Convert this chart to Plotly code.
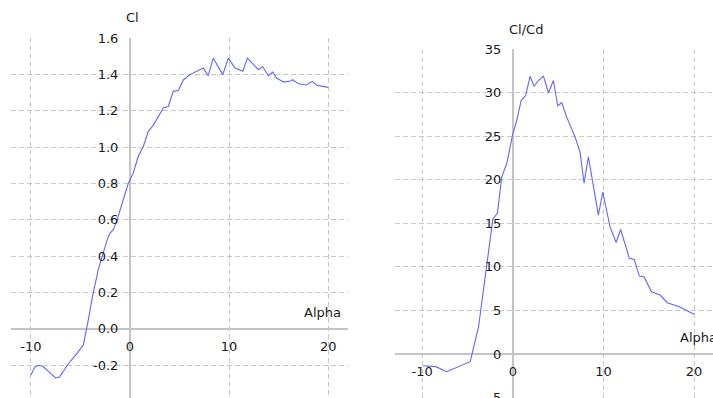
import plotly.graph_objects as go

# Lift coefficient polar: angle of attack (deg) vs Cl
cl_alpha = [-10.0, -9.6, -9.2, -8.75, -8.2, -7.5, -7.1, -6.6, -6.2, -5.5, -4.7,
            -4.2, -3.77, -3.2, -2.3, -2.0, -1.7, -1.35, -0.67, -0.17, 0.33, 0.84,
            1.35, 1.85, 2.35, 3.37, 3.87, 4.37, 4.88, 5.4, 6.06, 7.4, 7.9, 8.4,
            9.36, 9.93, 10.6, 11.38, 11.85, 12.45, 12.96, 13.37, 13.97, 14.4,
            14.8, 15.5, 16.2, 16.4, 17.0, 17.8, 18.4, 18.86, 20.0]
cl_values = [-0.255, -0.21, -0.20, -0.207, -0.235, -0.27, -0.265, -0.22, -0.19,
             -0.145, -0.088, 0.05, 0.18, 0.325, 0.49, 0.527, 0.545, 0.59, 0.71,
             0.80, 0.857, 0.95, 1.004, 1.087, 1.12, 1.215, 1.224, 1.307, 1.312,
             1.371, 1.399, 1.435, 1.393, 1.49, 1.399, 1.49, 1.435, 1.417, 1.49,
             1.454, 1.426, 1.444, 1.393, 1.413, 1.38, 1.358, 1.364, 1.371, 1.349,
             1.342, 1.362, 1.34, 1.329]

# Glide ratio polar: angle of attack (deg) vs Cl/Cd
ld_alpha = [-9.9, -8.5, -7.3, -6.2, -4.7, -3.78, -3.4, -3.03, -2.48, -2.2, -1.7,
            -1.4, -1.22, -0.66, -0.04, 0.44, 0.92, 1.43, 1.9, 2.35, 2.83, 3.38,
            3.93, 4.48, 4.96, 5.4, 5.95, 6.87, 7.42, 7.86, 8.34, 9.44, 9.93,
            10.73, 11.4, 11.9, 12.86, 13.4, 13.96, 14.48, 15.3, 16.25, 17.05,
            18.37, 20.0]
ld_values = [-1.34, -1.45, -2.03, -1.57, -0.88, 3.13, 6.2, 9.26, 13.1, 15.5, 16.15,
             19.3, 20.35, 21.9, 25.1, 26.85, 29.1, 29.7, 31.9, 30.75, 31.4, 31.9,
             30.0, 31.4, 28.5, 28.85, 27.2, 24.9, 23.2, 19.6, 22.65, 15.95, 18.6,
             14.6, 12.8, 14.3, 11.0, 10.85, 8.95, 8.87, 7.15, 6.77, 5.89, 5.43,
             4.56]

# Tick values and their labels
alpha_ticks = [-10, 0, 10, 20]
alpha_labels = ["-10", "0", "10", "20"]
cl_ticks = [-0.2, 0.0, 0.2, 0.4, 0.6, 0.8, 1.0, 1.2, 1.4, 1.6]
cl_labels = ["-0.2", "0.0", "0.2", "0.4", "0.6", "0.8", "1.0", "1.2", "1.4", "1.6"]
ld_ticks = [-5, 0, 5, 10, 15, 20, 25, 30, 35]
ld_labels = ["-5", "0", "5", "10", "15", "20", "25", "30", "35"]

W, H = 713, 398
LINE = "rgb(100,100,255)"
GRID = "#c8c8c8"
AXIS = "#c4c4c4"
TEXT = "#1a1a1a"
FONT = "DejaVu Sans"

# Plot areas (paper fractions) and ranges
x1_dom, x1_rng = [11 / W, 348 / W], [-12.0, 22.0]
y1_dom, y1_rng = [0.0, 1 - 38 / H], [-0.38, 1.6005]
x2_dom, x2_rng = [395 / W, 1.0], [-13.0, 22.09]
y2_dom, y2_rng = [0.0, 1 - 49 / H], [-5.05, 35.02]


def zero_pos(dom, rng):
    """Paper coordinate where the value 0 falls on an axis."""
    return dom[0] + (0 - rng[0]) / (rng[1] - rng[0]) * (dom[1] - dom[0])


fig = go.Figure()
fig.add_trace(go.Scatter(x=cl_alpha, y=cl_values, mode="lines",
                         line=dict(color=LINE, width=1.1),
                         xaxis="x", yaxis="y", showlegend=False))
fig.add_trace(go.Scatter(x=ld_alpha, y=ld_values, mode="lines",
                         line=dict(color=LINE, width=1.1),
                         xaxis="x2", yaxis="y2", showlegend=False))

common = dict(
    showgrid=True, gridcolor=GRID, gridwidth=1, griddash="5px,3px",
    zeroline=True, zerolinecolor=AXIS, zerolinewidth=1.5,
    showline=False, ticks="outside", tickcolor="rgba(0,0,0,0)",
    tickfont=dict(family=FONT, size=13, color=TEXT),
    ticklabeloverflow="allow", automargin=False,
    anchor="free", fixedrange=True,
)

fig.update_layout(
    width=W, height=H,
    margin=dict(l=0, r=0, t=0, b=0, autoexpand=False),
    paper_bgcolor="white", plot_bgcolor="white",
    font=dict(family=FONT, size=13, color=TEXT),
    xaxis=dict(common, domain=x1_dom, range=x1_rng, tickvals=alpha_ticks,
               ticktext=alpha_labels, ticklen=5,
               position=zero_pos(y1_dom, y1_rng)),
    yaxis=dict(common, domain=y1_dom, range=y1_rng, tickvals=cl_ticks,
               ticktext=cl_labels, ticklen=9,
               position=zero_pos(x1_dom, x1_rng)),
    xaxis2=dict(common, domain=x2_dom, range=x2_rng, tickvals=alpha_ticks,
                ticktext=alpha_labels, ticklen=5,
                position=zero_pos(y2_dom, y2_rng)),
    yaxis2=dict(common, domain=y2_dom, range=y2_rng, tickvals=ld_ticks,
                ticktext=ld_labels, ticklen=9,
                position=zero_pos(x2_dom, x2_rng)),
)

label_font = dict(family=FONT, size=13, color=TEXT)
fig.add_annotation(text="Cl", xref="x", yref="y", x=0, y=1.6, xanchor="left",
                   yanchor="middle", xshift=-6, yshift=21, showarrow=False,
                   font=label_font)
fig.add_annotation(text="Cl/Cd", xref="x2", yref="y2", x=0, y=35, xanchor="left",
                   yanchor="middle", xshift=-6, yshift=20, showarrow=False,
                   font=label_font)
fig.add_annotation(text="Alpha", xref="x domain", yref="y", x=1, y=0,
                   xanchor="right", yanchor="middle", xshift=-5, yshift=16,
                   showarrow=False, font=label_font)
fig.add_annotation(text="Alpha", xref="x2 domain", yref="y2", x=1, y=0,
                   xanchor="right", yanchor="middle", xshift=6, yshift=17,
                   showarrow=False, font=label_font)

fig.write_html("out.html")
